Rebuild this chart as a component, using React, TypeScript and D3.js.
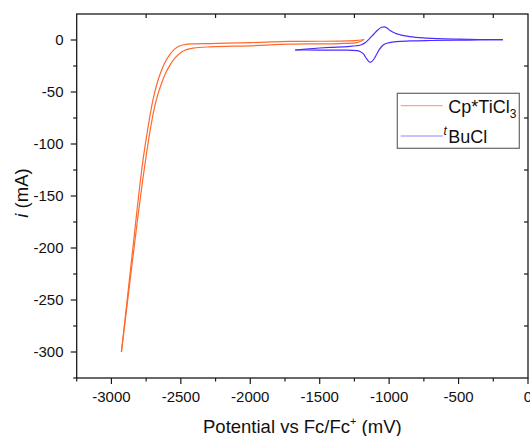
import React from "react";
import * as d3 from "d3";

// Cp*TiCl3 - two branches of the scan (mV, mA)
const tiOuterV = [-2928, -2880, -2837, -2800, -2772, -2745, -2724, -2700, -2675, -2650, -2620, -2580, -2545, -2507, -2470, -2435, -2291, -2003, -1714, -1500, -1353, -1245, -1180];
const tiOuterI = [-300, -242, -190, -145, -115, -91, -74, -57, -43.5, -33, -23, -14, -8.8, -5.6, -4.4, -3.8, -3.4, -2.6, -1.3, -1.2, -1.1, -0.6, 0.5];
const tiInnerV = [-2928, -2870, -2815, -2775, -2745, -2715, -2690, -2665, -2640, -2610, -2575, -2540, -2500, -2460, -2410, -2291, -2003, -1714, -1500, -1353, -1245, -1180];
const tiInnerI = [-300, -236, -176, -135, -107, -82, -65, -52, -42, -32, -23.5, -17, -12, -9.3, -7.8, -6.6, -5.6, -4.0, -3.7, -3.4, -2.8, 0.5];

// tBuCl - reduction and oxidation branches
const buRedV = [-1677, -1600, -1450, -1300, -1233, -1210, -1185, -1160, -1137, -1110, -1089, -1070, -1041, -1000, -950, -850, -700, -500, -350, -180];
const buRedI = [-9.6, -9.6, -9.7, -9.8, -10.2, -11, -13.4, -18.5, -21.5, -18.5, -13.4, -9, -4.5, -2.6, -1.5, -0.9, -0.5, -0.2, 0.1, 0.3];
const buOxV = [-1677, -1600, -1500, -1426, -1300, -1233, -1200, -1170, -1140, -1110, -1080, -1055, -1035, -1015, -993, -960, -920, -850, -753, -650, -500, -350, -180];
const buOxI = [-9.6, -8.7, -7.7, -7.1, -6.3, -5.5, -4.6, -2.5, 1.5, 5.8, 9.8, 12.3, 12.7, 11.5, 9.2, 6.8, 5, 3.3, 2, 1.3, 0.8, 0.5, 0.3];

const xMajor = [-3000, -2500, -2000, -1500, -1000, -500, 0];
const xMinor = [-3250, -2750, -2250, -1750, -1250, -750, -250];
const yMajor = [0, -50, -100, -150, -200, -250, -300];
const yMinor = [-25, -75, -125, -175, -225, -275, -325];

const orange = "#ff6a2c";
const blue = "#4a2dff";
const font = "'Liberation Sans', Arial, sans-serif";

export default function App() {
  const left = 76.7, right = 528, top = 14, bottom = 378;
  const x = d3.scaleLinear().domain([-3250, 0]).range([left, right]);
  const y = d3.scaleLinear().domain([-325, 25]).range([bottom, top]);

  const line = d3
    .line<[number, number]>()
    .x((d) => x(d[0]))
    .y((d) => y(d[1]))
    .curve(d3.curveMonotoneX);

  const zip = (a: number[], b: number[]) => a.map((v, i) => [v, b[i]] as [number, number]);

  const series = [
    { pts: zip(tiOuterV, tiOuterI), color: orange },
    { pts: zip(tiInnerV, tiInnerI), color: orange },
    { pts: zip(buRedV, buRedI), color: blue },
    { pts: zip(buOxV, buOxI), color: blue },
  ];

  const axisColor = "#1a1a1a";

  return (
    <svg
      width={530}
      height={436}
      style={{ position: "absolute", left: 0, top: 0, background: "#fff" }}
      fontFamily={font}
    >
      {/* curves */}
      <g fill="none" strokeWidth={1.2}>
        {series.map((s, i) => (
          <path key={i} d={line(s.pts) || ""} stroke={s.color} />
        ))}
      </g>

      {/* frame */}
      <rect x={left} y={top} width={right - left} height={bottom - top} fill="none" stroke={axisColor} strokeWidth={1.3} />

      {/* ticks */}
      <g stroke={axisColor} strokeWidth={1.2}>
        {xMajor.map((v) => (
          <line key={"xM" + v} x1={x(v)} x2={x(v)} y1={bottom} y2={bottom + 6} />
        ))}
        {xMinor.map((v) => (
          <line key={"xm" + v} x1={x(v)} x2={x(v)} y1={bottom} y2={bottom + 3.5} />
        ))}
        {xMinor.filter((v) => v > -3250).map((v) => (
          <line key={"xt" + v} x1={x(v)} x2={x(v)} y1={top} y2={top + 4} />
        ))}
        {yMajor.map((v) => (
          <line key={"yM" + v} x1={left - 6} x2={left} y1={y(v)} y2={y(v)} />
        ))}
        {yMinor.map((v) => (
          <line key={"ym" + v} x1={left - 3.5} x2={left} y1={y(v)} y2={y(v)} />
        ))}
        {yMinor.filter((v) => v > -325).map((v) => (
          <line key={"yr" + v} x1={right - 4} x2={right} y1={y(v)} y2={y(v)} />
        ))}
      </g>

      {/* tick labels */}
      <g fontSize={15} fill="#111">
        {xMajor.map((v) => (
          <text key={"xl" + v} x={x(v)} y={402} textAnchor="middle">
            {v}
          </text>
        ))}
        {yMajor.map((v) => (
          <text key={"yl" + v} x={63.5} y={y(v)} dy="0.36em" textAnchor="end">
            {v}
          </text>
        ))}
      </g>

      {/* axis titles */}
      <text x={(left + right) / 2} y={433} textAnchor="middle" fontSize={18.5} fill="#111">
        Potential vs Fc/Fc
        <tspan fontSize={11} dy={-8}>+</tspan>
        <tspan dy={8}> (mV)</tspan>
      </text>
      <text transform="translate(28,193) rotate(-90)" textAnchor="middle" fontSize={18.5} fill="#111">
        <tspan fontStyle="italic">i</tspan> (mA)
      </text>

      {/* legend */}
      <g>
        <rect x={397.3} y={93.3} width={122} height={55} fill="#fff" stroke="#666" strokeWidth={1.2} />
        <line x1={400.7} x2={442.7} y1={105.7} y2={105.7} stroke={orange} strokeWidth={1.2} opacity={0.6} />
        <line x1={400.7} x2={442.7} y1={136} y2={136} stroke={blue} strokeWidth={1.2} opacity={0.6} />
        <text x={448.3} y={113.3} fontSize={18} fill="#111">
          Cp*TiCl
          <tspan fontSize={12} dy={4.5}>3</tspan>
        </text>
        <text x={443.5} y={135} fontSize={12} fontStyle="italic" fill="#111">t</text>
        <text x={448.3} y={143.3} fontSize={18} fill="#111">BuCl</text>
      </g>
    </svg>
  );
}
